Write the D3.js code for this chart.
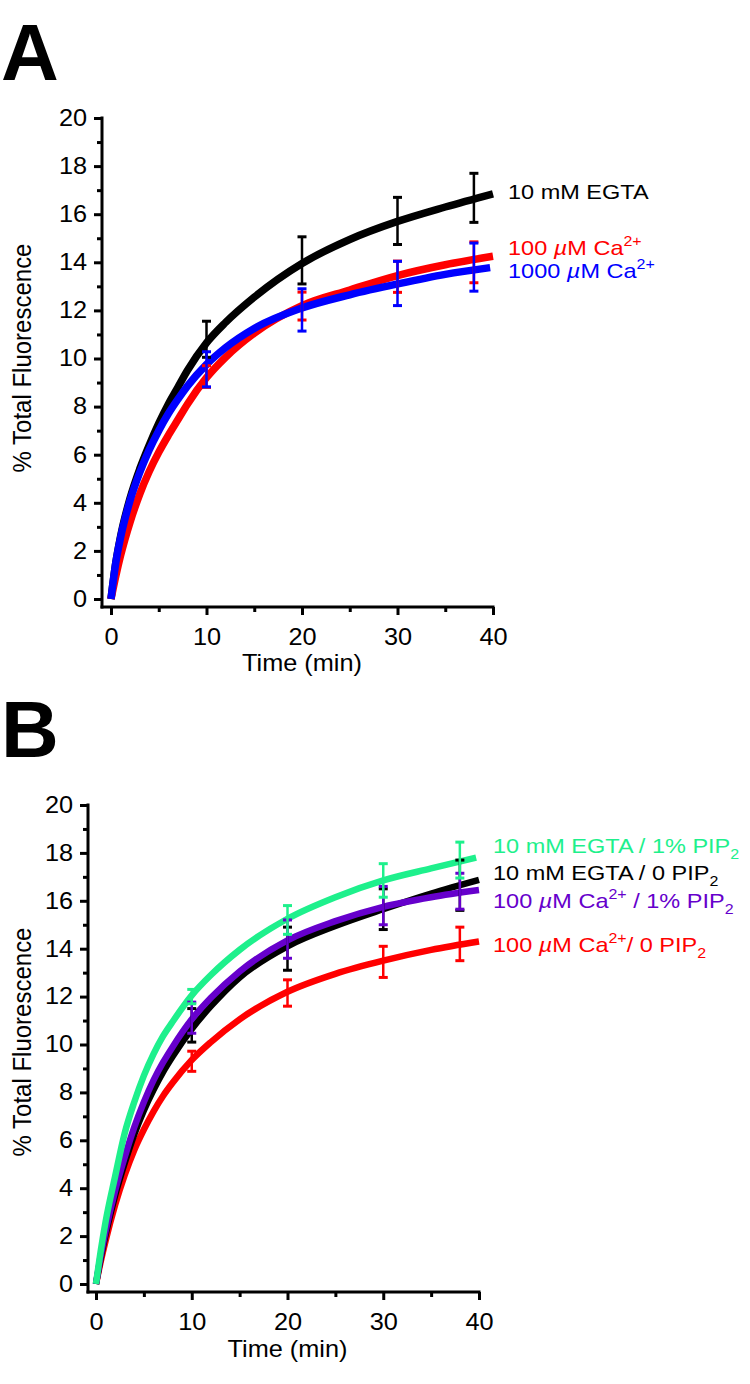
<!DOCTYPE html>
<html><head><meta charset="utf-8">
<script src="https://cdn.jsdelivr.net/npm/d3@7"></script>
<style>
body{margin:0;background:#fff}
text{font-family:"Liberation Sans",Arial,Helvetica,sans-serif}
</style>
</head><body>
<svg id="chart" width="750" height="1384"></svg>
<script>
// ---------- DATA ----------
const yTicksMajor = [0,2,4,6,8,10,12,14,16,18,20];
const yTicksMinor = [1,3,5,7,9,11,13,15,17,19];
const xTicksMajor = [0,10,20,30,40];
const xTicksMinor = [5,15,25,35];
const xTitle = "Time (min)";
const yTitle = "% Total Fluorescence";
const errTimes = [10,20,30,38];

// Panel A
const timesA      = [0,0.5,1,2,3,4,5,6,7,8,10,12,15,20,25,30,35,40];
const egtaA       = [0,1.5,2.6,4.2,5.4,6.4,7.3,8.1,8.8,9.5,10.65,11.5,12.55,13.95,14.95,15.7,16.3,16.85];
const ca100A      = [0,0.95,1.8,3.2,4.35,5.3,6.1,6.8,7.45,8.1,9.2,10.05,11.05,12.2,12.85,13.45,13.9,14.25];
const timesBlueA  = [0,0.5,1,2,3,4,5,6,7,8,10,12,15,20,25,30,35,39.7];
const ca1000A     = [0,1.5,2.55,4.1,5.25,6.2,7.0,7.7,8.3,8.85,9.75,10.45,11.25,12.1,12.65,13.1,13.5,13.78];
const egtaAErrMean   = [10.8,14.08,15.72,16.68];
const egtaAErrSd     = [0.75,0.98,0.98,1.02];
const ca100AErrMean  = [9.25,12.18,13.4,14.0];
const ca100AErrSd    = [0.45,0.58,0.65,0.85];
const ca1000AErrMean = [9.55,12.02,13.12,13.8];
const ca1000AErrSd   = [0.73,0.88,0.92,1.0];

// Panel B
const timesB        = [0,0.5,1,2,3,4,5,6,7,8,10,12,15,20,25,30,35,40];
const timesGreenB   = [0,0.5,1,2,3,4,5,6,7,8,10,12,15,20,25,30,35,39.7];
const egtaPipB      = [0,1.4,2.6,4.5,6.3,7.6,8.7,9.6,10.35,10.95,12.05,12.9,13.95,15.25,16.15,16.85,17.35,17.8];
const egtaB         = [0,1.1,2.05,3.7,5.05,6.25,7.25,8.1,8.85,9.5,10.65,11.6,12.8,14.1,14.95,15.65,16.3,16.87];
const caPipB        = [0,1.2,2.2,3.9,5.3,6.55,7.6,8.5,9.25,9.9,11.05,11.95,13.05,14.35,15.15,15.75,16.15,16.45];
const caB           = [0,0.95,1.8,3.3,4.55,5.6,6.45,7.2,7.85,8.4,9.35,10.1,11.05,12.2,12.95,13.5,13.95,14.3];
const egtaPipBErrMean = [12.0,15.2,16.85,17.7];
const egtaPipBErrSd   = [0.3,0.6,0.7,0.75];
const egtaBErrMean    = [10.8,14.0,15.65,16.65];
const egtaBErrSd      = [0.7,0.9,0.85,1.05];
const caPipBErrMean   = [11.12,14.4,15.8,16.4];
const caPipBErrSd     = [0.65,0.8,0.8,0.75];
const caBErrMean      = [9.3,12.15,13.45,14.2];
const caBErrSd        = [0.42,0.55,0.65,0.7];

// Legend labels (rich text segments)
const legendA = [
  [{t:"10 mM EGTA"}],
  [{t:"100 "},{t:"\u00B5",s:"it"},{t:"M Ca"},{t:"2+",s:"sup"}],
  [{t:"1000 "},{t:"\u00B5",s:"it"},{t:"M Ca"},{t:"2+",s:"sup"}]
];
const legendB = [
  [{t:"10 mM EGTA / 1% PIP"},{t:"2",s:"sub"}],
  [{t:"10 mM EGTA / 0 PIP"},{t:"2",s:"sub"}],
  [{t:"100 "},{t:"\u00B5",s:"it"},{t:"M Ca"},{t:"2+",s:"sup"},{t:" / 1% PIP"},{t:"2",s:"sub"}],
  [{t:"100 "},{t:"\u00B5",s:"it"},{t:"M Ca"},{t:"2+",s:"sup"},{t:"/ 0 PIP"},{t:"2",s:"sub"}]
];

// ---------- DRAWING ----------
const SX_TICK = 1.1, SX_LEG = 1.12, FS_TICK = 23, FS_LEG = 21;
const svg = d3.select("#chart");

function stretchTexts(sel, sx){
  sel.each(function(){
    const t = d3.select(this);
    const x = +(t.attr("x")||0), y = +(t.attr("y")||0);
    t.attr("transform",`translate(${x},${y}) scale(${sx},1)`).attr("x",0).attr("y",0);
  });
}

function richText(g, x, y, segs, color, size){
  const t = g.append("text").attr("transform",`translate(${x},${y}) scale(${SX_LEG},1)`)
    .attr("font-size",size).attr("fill",color);
  let shift = 0;
  segs.forEach(s=>{
    const ts = t.append("tspan").text(s.t);
    let target = 0;
    if(s.s==="sup"){ ts.attr("font-size",size*0.68); target = -9; }
    else if(s.s==="sub"){ ts.attr("font-size",size*0.68); target = 6; }
    else if(s.s==="it"){ ts.attr("font-style","italic"); }
    if(target!==shift){ ts.attr("dy",target-shift); shift = target; }
  });
}

function drawPanel(cfg){
  const g = svg.append("g");
  const x = d3.scaleLinear().domain([0,40]).range([cfg.x0,cfg.x1]);
  const y = d3.scaleLinear().domain([0,20]).range([cfg.y0,cfg.y1]);

  g.append("text").attr("x",cfg.letterX).attr("y",cfg.letterY).attr("font-size",80)
    .attr("font-weight","bold").text(cfg.letter);

  g.append("line").attr("x1",cfg.axX).attr("x2",cfg.axX).attr("y1",y(20)-1.5).attr("y2",cfg.axY+1.5)
    .attr("stroke","#000").attr("stroke-width",3);
  g.append("line").attr("x1",cfg.axX-1.5).attr("x2",x(40)+1.5).attr("y1",cfg.axY).attr("y2",cfg.axY)
    .attr("stroke","#000").attr("stroke-width",3);

  const gy = g.append("g").attr("transform",`translate(${cfg.axX},0)`)
    .call(d3.axisLeft(y).tickValues(yTicksMajor).tickSize(8).tickPadding(7).tickSizeOuter(0).tickFormat(d3.format("d")));
  const gym = g.append("g").attr("transform",`translate(${cfg.axX},0)`)
    .call(d3.axisLeft(y).tickValues(yTicksMinor).tickSize(5).tickSizeOuter(0).tickFormat(""));
  const gx = g.append("g").attr("transform",`translate(0,${cfg.axY})`)
    .call(d3.axisBottom(x).tickValues(xTicksMajor).tickSize(8).tickPadding(13.5).tickSizeOuter(0).tickFormat(d3.format("d")));
  const gxm = g.append("g").attr("transform",`translate(0,${cfg.axY})`)
    .call(d3.axisBottom(x).tickValues(xTicksMinor).tickSize(5).tickSizeOuter(0).tickFormat(""));
  [gy,gym,gx,gxm].forEach(a=>{
    a.select(".domain").remove();
    a.selectAll("line").attr("stroke","#000").attr("stroke-width",3);
    a.selectAll("text").attr("font-size",FS_TICK).attr("fill","#000")
      .attr("font-family","'Liberation Sans',Arial,Helvetica,sans-serif");
  });
  stretchTexts(gy.selectAll("text"), SX_TICK);
  stretchTexts(gx.selectAll("text"), SX_TICK);

  g.append("text").attr("transform",`translate(${(cfg.x0+cfg.x1)/2},${cfg.xTitleY}) scale(${SX_TICK},1)`)
    .attr("text-anchor","middle").attr("font-size",FS_TICK).text(xTitle);
  g.append("text").attr("transform",`translate(${cfg.yTitleX},${cfg.yTitleC}) rotate(-90) scale(1,${SX_TICK})`)
    .attr("text-anchor","middle").attr("font-size",24).text(yTitle);

  const line = d3.line().x(d=>x(d[0])).y(d=>y(d[1])).curve(d3.curveMonotoneX);
  cfg.series.forEach(s=>{
    g.append("path").datum(d3.zip(s.t,s.v)).attr("d",line)
      .attr("fill","none").attr("stroke",s.color).attr("stroke-width",cfg.lw)
      .attr("stroke-linecap","butt").attr("stroke-linejoin","round");
  });
  cfg.series.forEach(s=>{
    const eg = g.append("g").attr("stroke",s.color);
    errTimes.forEach((t,i)=>{
      const m = s.em[i], sd = s.es[i];
      eg.append("line").attr("x1",x(t)).attr("x2",x(t)).attr("y1",y(m+sd)).attr("y2",y(m-sd)).attr("stroke-width",2.5);
      eg.append("line").attr("x1",x(t)-4.5).attr("x2",x(t)+4.5).attr("y1",y(m+sd)).attr("y2",y(m+sd)).attr("stroke-width",3);
      eg.append("line").attr("x1",x(t)-4.5).attr("x2",x(t)+4.5).attr("y1",y(m-sd)).attr("y2",y(m-sd)).attr("stroke-width",3);
    });
  });

  cfg.labels.forEach((l,i)=>{
    richText(g, cfg.labelX, cfg.labelY[i], l.segs, l.color, FS_LEG);
  });
}

drawPanel({
  letter:"A", letterX:1, letterY:80,
  x0:111, x1:493, y0:599, y1:118, axX:102, axY:607,
  xTitleY:671, yTitleX:31, yTitleC:358, lw:7.5,
  series:[
    {t:timesA, v:egtaA, color:"#000000", em:egtaAErrMean, es:egtaAErrSd},
    {t:timesA, v:ca100A, color:"#ff0000", em:ca100AErrMean, es:ca100AErrSd},
    {t:timesBlueA, v:ca1000A, color:"#0000ff", em:ca1000AErrMean, es:ca1000AErrSd}
  ],
  labelX:508, labelY:[199,255,278],
  labels:[
    {segs:legendA[0], color:"#000000"},
    {segs:legendA[1], color:"#ff0000"},
    {segs:legendA[2], color:"#0000ff"}
  ]
});

drawPanel({
  letter:"B", letterX:1, letterY:757,
  x0:96, x1:479, y0:1284, y1:805, axX:88, axY:1292,
  xTitleY:1357, yTitleX:31, yTitleC:1042, lw:6.5,
  series:[
    {t:timesB, v:caB, color:"#ff0000", em:caBErrMean, es:caBErrSd},
    {t:timesB, v:egtaB, color:"#000000", em:egtaBErrMean, es:egtaBErrSd},
    {t:timesB, v:caPipB, color:"#6600cc", em:caPipBErrMean, es:caPipBErrSd},
    {t:timesGreenB, v:egtaPipB, color:"#1ef08c", em:egtaPipBErrMean, es:egtaPipBErrSd}
  ],
  labelX:493, labelY:[853,880,908,952],
  labels:[
    {segs:legendB[0], color:"#1ef08c"},
    {segs:legendB[1], color:"#000000"},
    {segs:legendB[2], color:"#6600cc"},
    {segs:legendB[3], color:"#ff0000"}
  ]
});
</script>
</body></html>
